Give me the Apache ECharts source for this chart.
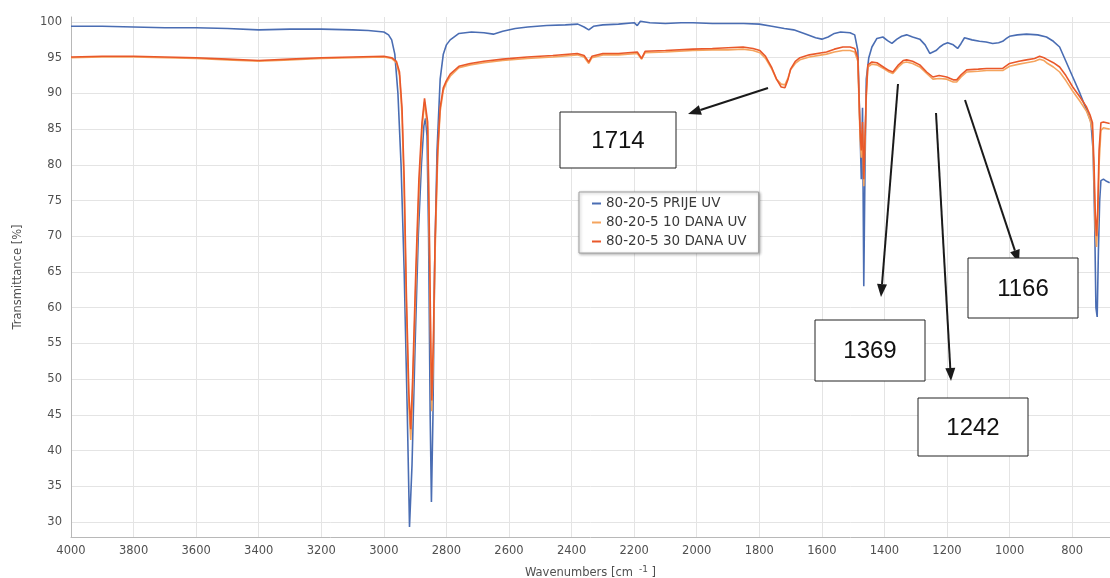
<!DOCTYPE html>
<html>
<head>
<meta charset="utf-8">
<script src="https://cdn.jsdelivr.net/npm/echarts@6/dist/echarts.min.js"></script>
<style>
  html, body { margin: 0; padding: 0; background: #fff; }
  #chart { width: 1110px; height: 578px; }
</style>
</head>
<body>
<div id="chart"></div>
<script>
// tick labels
const xTicks = [4000, 3800, 3600, 3400, 3200, 3000, 2800, 2600, 2400, 2200, 2000, 1800, 1600, 1400, 1200, 1000, 800];
const yTicks = [30, 35, 40, 45, 50, 55, 60, 65, 70, 75, 80, 85, 90, 95, 100];

const seriesNames = ['80-20-5 PRIJE UV', '80-20-5 10 DANA UV', '80-20-5 30 DANA UV'];

// [wavenumber, transmittance]
const prije = [
  [4000, 99.4], [3900, 99.4], [3800, 99.3], [3700, 99.2], [3600, 99.2], [3500, 99.1], [3400, 98.9],
  [3300, 99.0], [3200, 99.0], [3100, 98.9], [3050, 98.8], [3000, 98.6], [2985, 98.2], [2975, 97.5],
  [2965, 95.5], [2955, 90], [2945, 80], [2935, 65], [2925, 45], [2918, 29.3], [2910, 38], [2900, 55],
  [2890, 70], [2880, 80], [2872, 85.5], [2867, 86.5], [2862, 84], [2857, 70], [2852, 45], [2848, 32.8],
  [2843, 45], [2838, 65], [2830, 82], [2820, 92], [2810, 95.5], [2800, 96.8], [2788, 97.5], [2760, 98.4],
  [2720, 98.6], [2680, 98.5], [2650, 98.3], [2620, 98.7], [2580, 99.1], [2540, 99.3], [2480, 99.5],
  [2420, 99.6], [2380, 99.7], [2360, 99.3], [2345, 98.9], [2330, 99.4], [2300, 99.6], [2250, 99.7],
  [2200, 99.9], [2190, 99.5], [2180, 100.1], [2150, 99.9], [2100, 99.8], [2050, 99.9], [2012, 99.9],
  [1950, 99.8], [1900, 99.8], [1850, 99.8], [1800, 99.7], [1760, 99.4], [1720, 99.1], [1690, 98.9],
  [1650, 98.3], [1620, 97.8], [1600, 97.6], [1580, 97.9], [1560, 98.4], [1540, 98.6], [1510, 98.5],
  [1495, 98.2], [1485, 96], [1478, 85], [1474, 78], [1470, 88], [1466, 63], [1462, 80], [1458, 92],
  [1450, 95], [1440, 96.5], [1424, 97.7], [1405, 97.9], [1390, 97.4], [1376, 97.0], [1360, 97.6],
  [1345, 98.0], [1329, 98.2], [1310, 97.9], [1287, 97.6], [1270, 96.8], [1255, 95.6], [1249, 95.4],
  [1235, 96.0], [1223, 96.5], [1210, 96.9], [1198, 97.1], [1180, 96.8], [1166, 96.3], [1155, 97.0],
  [1144, 97.8], [1120, 97.5], [1096, 97.3], [1075, 97.2], [1054, 97.0], [1035, 97.1], [1022, 97.3],
  [1010, 97.7], [1000, 98.0], [975, 98.2], [946, 98.3], [910, 98.2], [882, 97.9], [860, 97.3],
  [840, 96.5], [820, 94.5], [798, 92.3], [775, 90], [754, 87.7], [740, 86], [733, 82], [728, 72],
  [724, 60], [720, 58.7], [716, 68], [712, 75], [708, 77.8], [700, 78], [690, 77.7], [680, 77.5]
];

const dana10 = [
  [4000, 95.0], [3900, 95.1], [3800, 95.1], [3700, 95.0], [3600, 94.9], [3500, 94.7], [3400, 94.5],
  [3300, 94.7], [3200, 94.9], [3100, 95.0], [3000, 95.1], [2975, 94.9], [2960, 94.3], [2950, 92.5],
  [2942, 87], [2935, 76], [2928, 60], [2920, 46], [2914, 41.5], [2908, 48], [2898, 63], [2888, 76],
  [2878, 85], [2870, 88.8], [2866, 89.0], [2860, 85], [2855, 70], [2850, 53], [2847, 45.5], [2842, 53],
  [2836, 68], [2828, 81], [2820, 87.5], [2810, 90.4], [2800, 91.5], [2788, 92.4], [2760, 93.6],
  [2724, 94.0], [2680, 94.3], [2620, 94.6], [2542, 94.9], [2460, 95.1], [2382, 95.4], [2360, 95.1],
  [2345, 94.2], [2335, 95.0], [2300, 95.4], [2250, 95.4], [2190, 95.6], [2176, 94.8], [2165, 95.7],
  [2100, 95.8], [2012, 96.0], [1950, 96.1], [1900, 96.1], [1852, 96.2], [1820, 96.0], [1798, 95.7],
  [1780, 94.9], [1760, 93.4], [1745, 92.0], [1730, 91.3], [1718, 91.2], [1708, 92.2], [1700, 93.3],
  [1685, 94.2], [1670, 94.7], [1640, 95.1], [1600, 95.4], [1585, 95.5], [1560, 95.8], [1533, 96.0],
  [1510, 96.0], [1495, 95.8], [1485, 94.5], [1478, 84], [1474, 81], [1470, 85], [1466, 77], [1462, 83],
  [1458, 89.5], [1453, 93.7], [1440, 94.1], [1424, 94.0], [1400, 93.4], [1385, 93.0], [1373, 92.8],
  [1355, 93.7], [1340, 94.3], [1329, 94.4], [1310, 94.2], [1287, 93.7], [1265, 92.8], [1245, 92.0],
  [1225, 92.1], [1201, 92.0], [1180, 91.6], [1169, 91.6], [1155, 92.3], [1137, 93.0], [1100, 93.1],
  [1073, 93.2], [1040, 93.2], [1022, 93.2], [1000, 93.8], [970, 94.1], [946, 94.3], [920, 94.5],
  [904, 94.8], [890, 94.6], [882, 94.3], [860, 93.7], [840, 93.0], [820, 91.8], [798, 90.3],
  [775, 88.9], [754, 87.5], [743, 86.3], [735, 84.8], [730, 78], [726, 71], [722, 68.5], [718, 72],
  [714, 80], [708, 84.8], [700, 85.2], [690, 85.1], [680, 85.0]
];

const dana30 = [
  [4000, 95.1], [3900, 95.2], [3800, 95.2], [3700, 95.1], [3600, 95.0], [3500, 94.8], [3400, 94.6],
  [3300, 94.8], [3200, 95.0], [3100, 95.1], [3000, 95.2], [2975, 95.0], [2960, 94.5], [2950, 93],
  [2942, 88], [2935, 78], [2928, 62], [2920, 48], [2914, 43], [2908, 50], [2898, 65], [2888, 78],
  [2878, 86], [2870, 89.3], [2866, 89.5], [2860, 86], [2855, 72], [2850, 55], [2847, 47], [2842, 55],
  [2836, 70], [2828, 82], [2820, 88], [2810, 90.8], [2800, 91.8], [2788, 92.7], [2760, 93.8],
  [2724, 94.2], [2680, 94.5], [2620, 94.8], [2542, 95.1], [2460, 95.3], [2382, 95.6], [2360, 95.3],
  [2345, 94.4], [2335, 95.2], [2300, 95.6], [2250, 95.6], [2190, 95.8], [2176, 94.9], [2165, 95.9],
  [2100, 96.0], [2012, 96.2], [1950, 96.3], [1900, 96.4], [1852, 96.5], [1820, 96.3], [1798, 96.0],
  [1780, 95.2], [1760, 93.6], [1745, 92.0], [1730, 90.9], [1718, 90.8], [1708, 92.0], [1700, 93.4],
  [1685, 94.5], [1670, 95.0], [1640, 95.4], [1600, 95.7], [1585, 95.8], [1560, 96.2], [1533, 96.5],
  [1510, 96.5], [1495, 96.3], [1485, 95], [1478, 85], [1474, 82], [1470, 86], [1466, 78], [1462, 84],
  [1458, 90], [1453, 94.0], [1440, 94.4], [1424, 94.3], [1400, 93.6], [1385, 93.2], [1373, 93.0],
  [1355, 94.0], [1340, 94.6], [1329, 94.7], [1310, 94.5], [1287, 94.0], [1265, 93.0], [1245, 92.3],
  [1225, 92.5], [1201, 92.3], [1180, 91.9], [1169, 91.9], [1155, 92.6], [1137, 93.3], [1100, 93.4],
  [1073, 93.5], [1040, 93.5], [1022, 93.5], [1000, 94.2], [970, 94.5], [946, 94.7], [920, 94.9],
  [904, 95.2], [890, 95.0], [882, 94.8], [860, 94.3], [840, 93.7], [820, 92.5], [798, 90.9],
  [775, 89.5], [754, 88.1], [743, 87.0], [735, 85.9], [730, 80], [726, 73], [722, 70], [718, 74],
  [714, 82], [708, 85.9], [700, 86.0], [690, 85.9], [680, 85.8]
];

// boxed band labels drawn over the chart
const noteLabels = ['1714', '1369', '1242', '1166'];

const colors = ['#4a6db3', '#f5a45e', '#e9582a'];

const chart = echarts.init(document.getElementById('chart'), null, { renderer: 'canvas' });

function arrow(x1, y1, x2, y2) {
  const a = Math.atan2(y2 - y1, x2 - x1);
  const len = 13, w = 5;
  const bx = x2 - len * Math.cos(a), by = y2 - len * Math.sin(a);
  return [
    { type: 'line', shape: { x1: x1, y1: y1, x2: bx, y2: by }, style: { stroke: '#1a1a1a', lineWidth: 2 }, z: 100 },
    { type: 'polygon', shape: { points: [[x2, y2], [bx - w * Math.sin(a), by + w * Math.cos(a)], [bx + w * Math.sin(a), by - w * Math.cos(a)]] },
      style: { fill: '#1a1a1a' }, z: 100 }
  ];
}

function box(label, x, y, w, h) {
  return [
    { type: 'rect', shape: { x: x, y: y, width: w, height: h }, style: { fill: '#fff', stroke: '#222', lineWidth: 1 }, z: 100 },
    { type: 'text', x: x + w / 2, y: y + h / 2 + 1,
      style: { text: label, fill: '#111', font: '24px "Liberation Sans", Arial, sans-serif', align: 'center', verticalAlign: 'middle' }, z: 101 }
  ];
}

const graphics = [].concat(
  arrow(768, 88, 688, 114), box(noteLabels[0], 560, 112, 116, 56),
  arrow(898, 84, 881, 297), box(noteLabels[1], 815, 320, 110, 61),
  arrow(936, 113, 951, 381), box(noteLabels[2], 918, 398, 110, 58),
  arrow(965, 100, 1019, 263), box(noteLabels[3], 968, 258, 110, 60)
);

const axisFont = { color: '#505050', fontSize: 11.5, fontFamily: 'DejaVu Sans' };

const options = {
  animation: false,
  backgroundColor: '#fff',
  grid: { left: 71, right: 0, top: 17, bottom: 41, containLabel: false, outerBoundsMode: 'none' },
  legend: {
    orient: 'vertical',
    left: 579,
    top: 192,
    data: seriesNames,
    icon: 'rect',
    itemWidth: 9,
    itemHeight: 2,
    itemGap: 0,
    padding: [2, 12, 2, 13],
    backgroundColor: '#fff',
    borderColor: '#a0a0a0',
    borderWidth: 1,
    borderRadius: 0,
    shadowColor: 'rgba(0,0,0,0.3)',
    shadowBlur: 3,
    shadowOffsetX: 1,
    shadowOffsetY: 1,
    textStyle: { color: '#3a3a3a', fontSize: 13.5, fontFamily: 'DejaVu Sans', lineHeight: 19 }
  },
  xAxis: {
    type: 'value',
    inverse: true,
    min: 679,
    max: 4000,
    name: 'Wavenumbers [cm{sup|-1} ]',
    nameLocation: 'middle',
    nameGap: 28,
    nameTextStyle: {
      color: '#505050', fontSize: 11.5, fontFamily: 'DejaVu Sans',
      rich: { sup: { fontSize: 9, color: '#505050', fontFamily: 'DejaVu Sans', verticalAlign: 'bottom', padding: [0, 0, 8, 6] } }
    },
    axisLine: { show: true, lineStyle: { color: '#b8b8b8', width: 1 } },
    axisTick: { show: false, customValues: xTicks },
    axisLabel: { ...axisFont, margin: 8, customValues: xTicks, formatter: function (v) { return String(v); } },
    splitLine: { show: true, lineStyle: { color: '#e4e4e4', width: 1 } }
  },
  yAxis: {
    type: 'value',
    min: 27.9,
    max: 100.7,
    name: 'Transmittance [%]',
    nameLocation: 'middle',
    nameGap: 47,
    nameTextStyle: { color: '#505050', fontSize: 11.5, fontFamily: 'DejaVu Sans' },
    axisLine: { show: true, lineStyle: { color: '#b8b8b8', width: 1 } },
    axisTick: { show: false, customValues: yTicks },
    axisLabel: { ...axisFont, margin: 9, customValues: yTicks, formatter: function (v) { return String(v); } },
    splitLine: { show: true, lineStyle: { color: '#e4e4e4', width: 1 } }
  },
  series: [
    { name: seriesNames[0], type: 'line', data: prije, showSymbol: false, symbol: 'none',
      lineStyle: { color: colors[0], width: 1.6 }, itemStyle: { color: colors[0] } },
    { name: seriesNames[1], type: 'line', data: dana10, showSymbol: false, symbol: 'none',
      lineStyle: { color: colors[1], width: 1.6 }, itemStyle: { color: colors[1] } },
    { name: seriesNames[2], type: 'line', data: dana30, showSymbol: false, symbol: 'none',
      lineStyle: { color: colors[2], width: 1.6 }, itemStyle: { color: colors[2] } }
  ],
  graphic: graphics
};

chart.setOption(options);
</script>
</body>
</html>
